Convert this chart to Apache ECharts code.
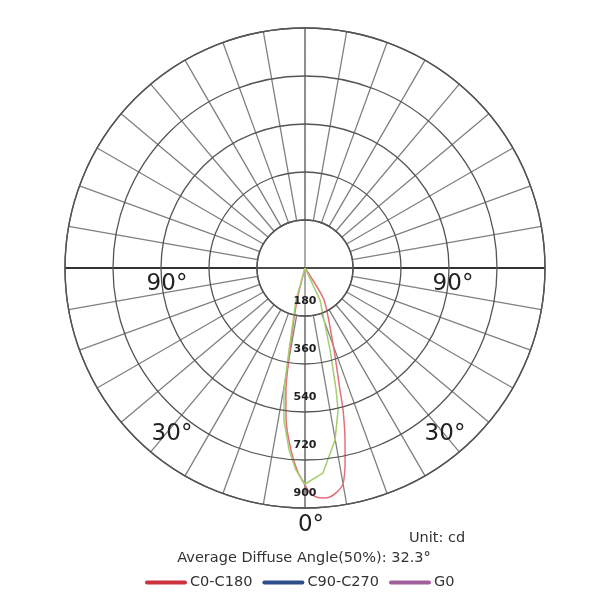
<!DOCTYPE html>
<html>
<head>
<meta charset="utf-8">
<script src="https://cdn.jsdelivr.net/npm/echarts@6/dist/echarts.min.js"></script>
<style>
html,body{margin:0;padding:0;background:#fff;}
#chart{width:615px;height:615px;}
</style>
</head>
<body>
<div id="chart"></div>
<script>
// ---- data (intensity in cd, gamma angle in degrees; 0 = straight down, positive = right side) ----
const seriesNames = ['C0-C180', 'C90-C270', 'G0'];
const radiusTicks = [180, 360, 540, 720, 900];
const angleLabels = ['90°', '90°', '30°', '30°', '0°'];
const unitText = 'Unit: cd';
const diffuseText = 'Average Diffuse Angle(50%): 32.3°';

const c0Intensity = [0, 124, 313, 463, 574, 685, 766, 814, 844, 860, 865, 864, 849, 822, 754, 662, 551, 476, 326, 140, 0];
const c0Gamma     = [0, -14.0, -10.4, -8.9, -7.1, -4.4, -2.0, 0, 1.3, 2.8, 4.5, 6.2, 8.1, 10.0, 11.5, 13.1, 15.0, 16.0, 19.5, 30.7, 40];

const c90Intensity = [0, 125, 313, 464, 575, 685, 758, 810, 772, 655, 547, 472, 322, 133, 0];
const c90Gamma     = [0, -15.7, -11.0, -9.8, -7.9, -5.0, -2.6, 0, 5.0, 9.9, 13.1, 14.3, 17.0, 25.1, 35];

const g0Intensity = [];
const g0Gamma = [];

function toPolar(vals, angs) {
  return vals.map((v, i) => [v, (angs[i] + 360) % 360]);
}

const chart = echarts.init(document.getElementById('chart'), null, {renderer: 'canvas'});
const font = 'DejaVu Sans';
const cx = 305, cy = 268;

const option = {
  backgroundColor: '#ffffff',
  animation: false,
  textStyle: {fontFamily: font},
  polar: [
    {center: [cx, cy], radius: [48, 240]},
    {center: [cx, cy], radius: [0, 240]}
  ],
  angleAxis: [
    {
      polarIndex: 0, type: 'value', min: 0, max: 360, interval: 10,
      startAngle: 270, clockwise: false,
      axisLine: {show: true, lineStyle: {color: '#555', width: 1.4}},
      axisTick: {show: false}, axisLabel: {show: false},
      splitLine: {show: true, lineStyle: {color: '#808080', width: 1.3}}
    },
    {
      polarIndex: 1, type: 'value', min: 0, max: 360, interval: 90,
      startAngle: 270, clockwise: false,
      axisLine: {show: false}, axisTick: {show: false}, axisLabel: {show: false},
      splitLine: {show: true, lineStyle: {color: ['#808080', '#111'], width: 1.3}}
    }
  ],
  radiusAxis: [
    {
      polarIndex: 0, type: 'value', min: 180, max: 900, interval: 180,
      axisLine: {show: false}, axisTick: {show: false},
      axisLabel: {
        show: true, margin: 0, align: 'center', verticalAlign: 'bottom',
        padding: [0, 0, 9, 0],
        fontSize: 11, fontWeight: 'bold', color: '#222', fontFamily: font,
        formatter: v => radiusTicks.includes(v) ? String(v) : ''
      },
      splitLine: {show: true, lineStyle: {color: '#555', width: 1.3}},
      z: 5
    },
    {
      polarIndex: 1, type: 'value', min: 0, max: 900,
      axisLine: {show: false}, axisTick: {show: false}, axisLabel: {show: false},
      splitLine: {show: false}
    }
  ],
  legend: {
    bottom: 20, left: 140,
    itemWidth: 38, itemHeight: 4, itemGap: 10,
    textStyle: {fontSize: 14.5, color: '#333', fontFamily: font},
    data: [
      {name: seriesNames[0], itemStyle: {color: '#cc3340'}, lineStyle: {color: '#cc3340', width: 4, cap: 'round'}},
      {name: seriesNames[1], itemStyle: {color: '#2c4f8c'}, lineStyle: {color: '#2c4f8c', width: 4, cap: 'round'}},
      {name: seriesNames[2], itemStyle: {color: '#a0609c'}, lineStyle: {color: '#a0609c', width: 4, cap: 'round'}}
    ]
  },
  series: [
    {
      name: seriesNames[0], type: 'line', coordinateSystem: 'polar', polarIndex: 1,
      data: toPolar(c0Intensity, c0Gamma), symbol: 'none', smooth: 0.2,
      lineStyle: {color: '#e2707e', width: 1.5}, itemStyle: {color: '#cc3340'}, z: 3
    },
    {
      name: seriesNames[1], type: 'line', coordinateSystem: 'polar', polarIndex: 1,
      data: toPolar(c90Intensity, c90Gamma), symbol: 'none',
      lineStyle: {color: '#a6cd6c', width: 1.5}, itemStyle: {color: '#2c4f8c'}, z: 4
    },
    {
      name: seriesNames[2], type: 'line', coordinateSystem: 'polar', polarIndex: 1,
      data: toPolar(g0Intensity, g0Gamma), symbol: 'none',
      lineStyle: {color: '#a0609c', width: 1.5}, itemStyle: {color: '#a0609c'}
    }
  ],
  graphic: [
    {type: 'text', x: 167, y: 284, style: {text: angleLabels[0], font: '23px "DejaVu Sans"', fill: '#222', align: 'center', verticalAlign: 'middle'}, z: 10},
    {type: 'text', x: 453, y: 284, style: {text: angleLabels[1], font: '23px "DejaVu Sans"', fill: '#222', align: 'center', verticalAlign: 'middle'}, z: 10},
    {type: 'text', x: 172, y: 434, style: {text: angleLabels[2], font: '23px "DejaVu Sans"', fill: '#222', align: 'center', verticalAlign: 'middle'}, z: 10},
    {type: 'text', x: 445, y: 434, style: {text: angleLabels[3], font: '23px "DejaVu Sans"', fill: '#222', align: 'center', verticalAlign: 'middle'}, z: 10},
    {type: 'text', x: 311, y: 525, style: {text: angleLabels[4], font: '23px "DejaVu Sans"', fill: '#222', align: 'center', verticalAlign: 'middle'}, z: 10},
    {type: 'text', x: 437, y: 538, style: {text: unitText, font: '14.5px "DejaVu Sans"', fill: '#333', align: 'center', verticalAlign: 'middle'}, z: 10},
    {type: 'text', x: 304, y: 558, style: {text: diffuseText, font: '14.5px "DejaVu Sans"', fill: '#333', align: 'center', verticalAlign: 'middle'}, z: 10}
  ]
};
chart.setOption(option);
</script>
</body>
</html>
